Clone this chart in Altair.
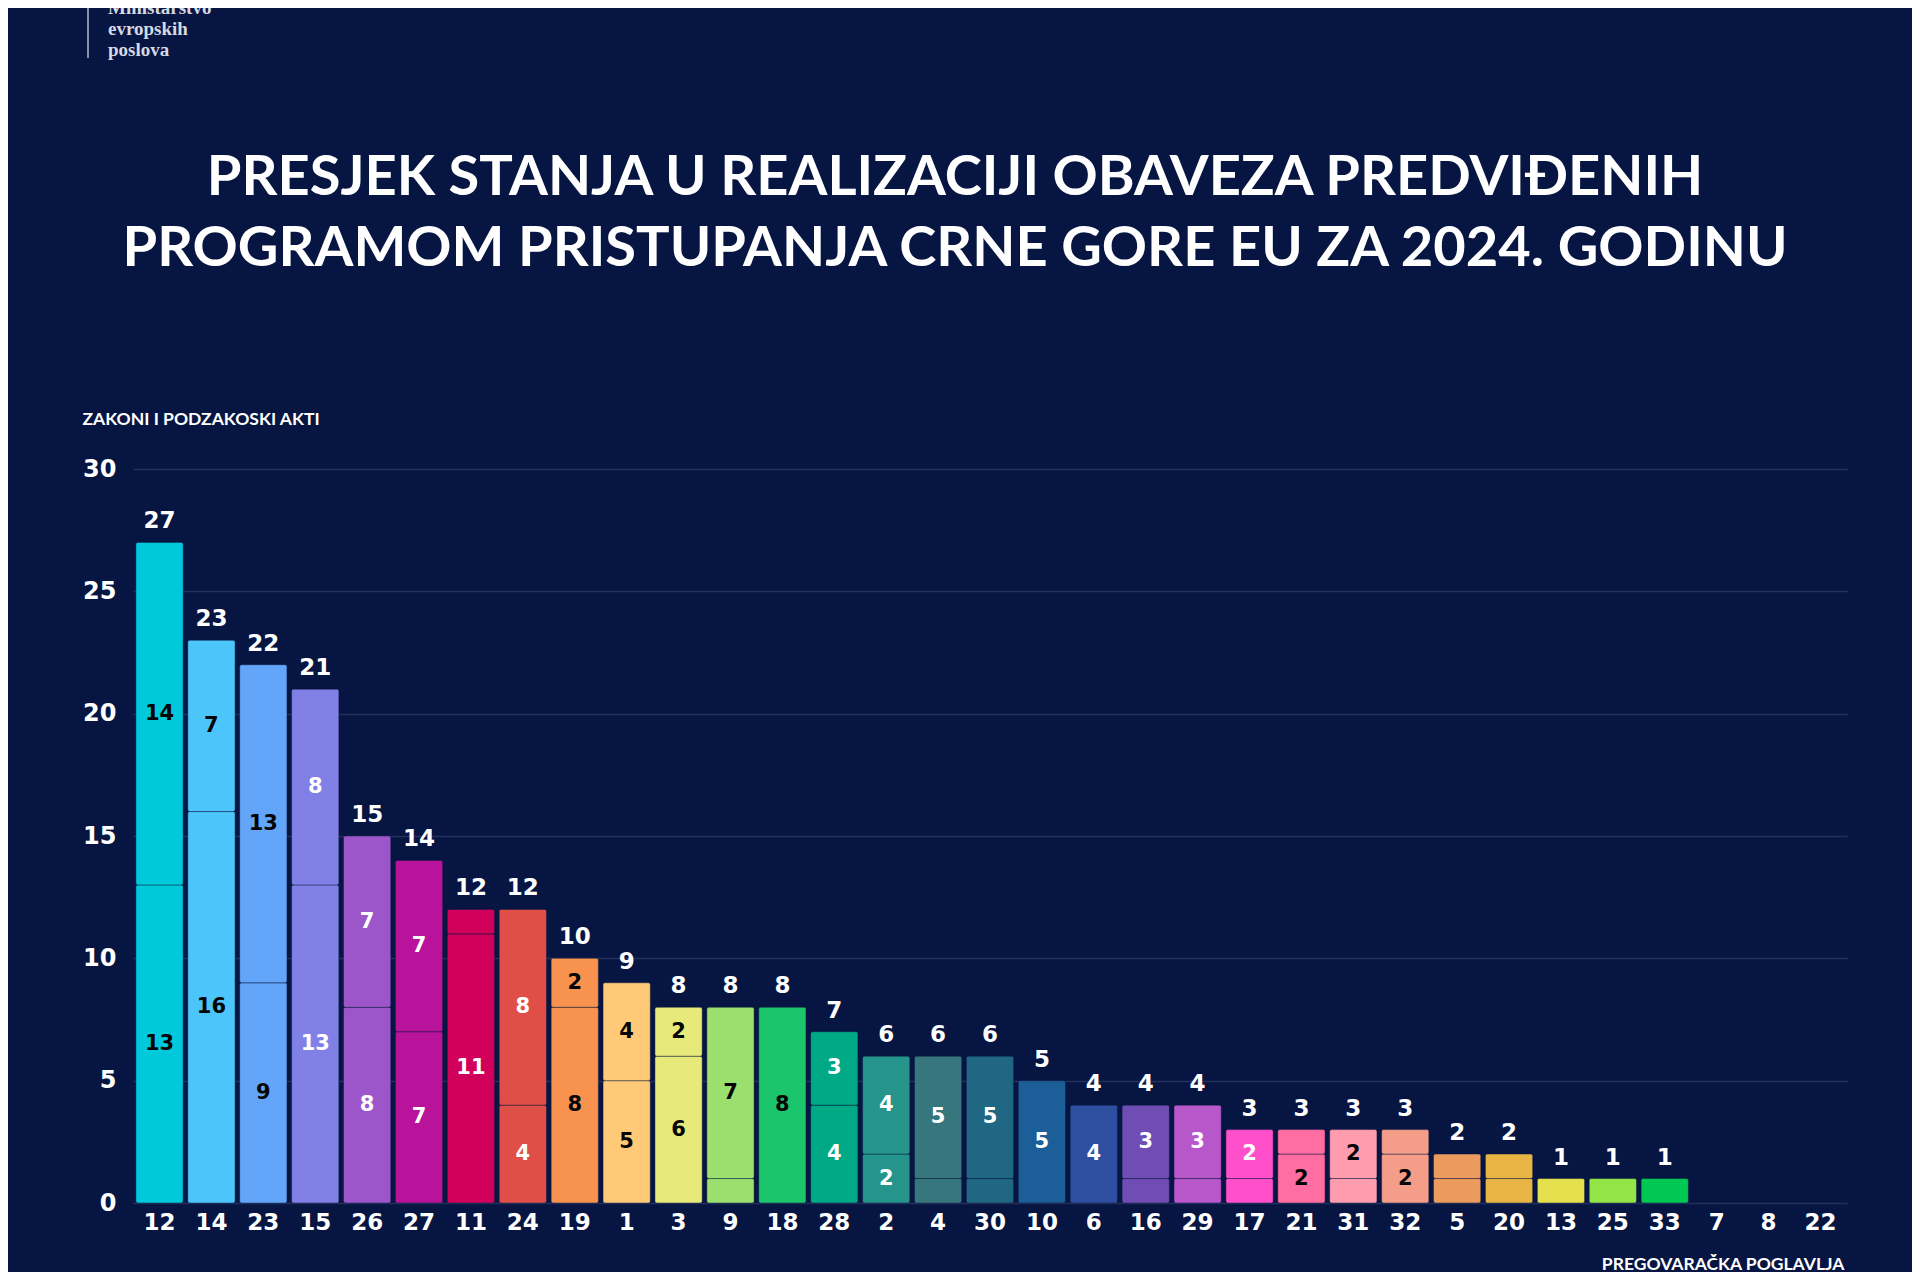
import altair as alt
import pandas as pd

# ---- data ----
chapters = ["12", "14", "23", "15", "26", "27", "11", "24", "19", "1", "3", "9", "18", "28", "2", "4",
            "30", "10", "6", "16", "29", "17", "21", "31", "32", "5", "20", "13", "25", "33", "7", "8", "22"]
bottom_part = [13, 16, 9, 13, 8, 7, 11, 4, 8, 5, 6, 1, 8, 4, 2, 1,
               1, 5, 4, 1, 1, 1, 2, 1, 2, 1, 1, 1, 1, 1, 0, 0, 0]
top_part = [14, 7, 13, 8, 7, 7, 1, 8, 2, 4, 2, 7, 0, 3, 4, 5,
            5, 0, 0, 3, 3, 2, 1, 2, 1, 1, 1, 0, 0, 0, 0, 0, 0]
bar_colors = ["#00C9DB", "#4CC5FB", "#63A5F9", "#8080E6", "#9D56C9", "#B9139C", "#D1005A", "#E04F47",
              "#F8924F", "#FFCA77", "#E7E97A", "#9BE06F", "#1BC56C", "#00A985", "#25958B", "#37767C",
              "#1F6782", "#1C5E98", "#2E4EA0", "#6F4DB3", "#B857CA", "#FF4FCB", "#FF6DA1", "#FF9DAF",
              "#F49E89", "#EB9B5E", "#E8B545", "#E5E04D", "#93E547", "#00C853", "#777777", "#777777", "#777777"]
label_ink = ["#050505", "#050505", "#050505", "white", "white", "white", "white", "white",
             "#050505", "#050505", "#050505", "#050505", "#050505", "white", "white", "white",
             "white", "white", "white", "white", "white", "white", "#050505", "#050505",
             "#050505", "white", "white", "white", "white", "white", "white", "white", "white"]

title_lines = ["PRESJEK STANJA U REALIZACIJI OBAVEZA PREDVIĐENIH",
               "PROGRAMOM PRISTUPANJA CRNE GORE EU ZA 2024. GODINU"]
y_title = "ZAKONI I PODZAKOSKI AKTI"
x_title = "PREGOVARAČKA POGLAVLJA"
logo_lines = ["Ministarstvo", "evropskih", "poslova"]

BG = "#061541"
FONT = "Lato"
NUMFONT = "DejaVu Sans"

# ---- tables built from the lists ----
seg_rows = []
for i, ch in enumerate(chapters):
    b, t = bottom_part[i], top_part[i]
    seg_rows.append(dict(ch=ch, y0=0, y1=b, v=b, mid=b / 2, ink=label_ink[i]))
    seg_rows.append(dict(ch=ch, y0=b, y1=b + t, v=t, mid=b + t / 2, ink=label_ink[i]))
seg = pd.DataFrame(seg_rows)
tot = pd.DataFrame(dict(ch=chapters, total=[b + t for b, t in zip(bottom_part, top_part)]))

xenc = alt.X("ch:N", sort=chapters, title=x_title,
             scale=alt.Scale(domain=chapters, paddingInner=0.09, paddingOuter=0.056),
             axis=alt.Axis(labelAngle=0, labelPadding=8, labelFontSize=23, labelColor="white",
                           labelFont=NUMFONT, labelFontWeight="bold", domain=False, ticks=False,
                           titleX=1711, titleY=61, titleAlign="right", titleBaseline="middle",
                           titleFont=FONT, titleFontSize=17.5, titleFontWeight="bold", titleColor="white"))

bars = alt.Chart(seg).transform_filter("datum.v > 0").mark_bar(
    cornerRadius=2, stroke="#0b1a40", strokeWidth=1, strokeOpacity=0.45
).encode(
    x=xenc,
    y=alt.Y("y0:Q", scale=alt.Scale(domain=[0, 30], nice=False),
            title=y_title,
            axis=alt.Axis(values=[0, 5, 10, 15, 20, 25, 30], labelPadding=17, labelFontSize=24,
                          labelColor="white", labelFont=NUMFONT, labelFontWeight="bold",
                          domain=False, ticks=False, grid=True, gridColor="#26305E", gridWidth=1.5,
                          titleAngle=0, titleX=-51, titleY=-50, titleAlign="left",
                          titleBaseline="middle", titleFont=FONT, titleFontSize=17.5,
                          titleFontWeight="bold", titleColor="white")),
    y2="y1:Q",
    color=alt.Color("ch:N", scale=alt.Scale(domain=chapters, range=bar_colors), legend=None),
)

seg_labels = alt.Chart(seg).transform_filter("datum.v >= 2").mark_text(
    font=NUMFONT, fontSize=21, fontWeight="bold", baseline="middle"
).encode(
    x=alt.X("ch:N", sort=chapters),
    y=alt.Y("mid:Q"),
    text=alt.Text("v:Q"),
    color=alt.Color("ink:N", scale=None),
)

tot_labels = alt.Chart(tot).transform_filter("datum.total > 0").mark_text(
    font=NUMFONT, fontSize=23, fontWeight="bold", baseline="middle", dy=-21, color="white"
).encode(
    x=alt.X("ch:N", sort=chapters),
    y=alt.Y("total:Q"),
    text=alt.Text("total:Q"),
)


def note(text, x, y, size, font=FONT, weight="bold", color="white", align="center", baseline="middle"):
    return alt.Chart(pd.DataFrame({"t": [text]})).mark_text(
        font=font, fontSize=size, fontWeight=weight, color=color, align=align, baseline=baseline
    ).encode(x=alt.value(x), y=alt.value(y), text="t:N")


title1 = note(title_lines[0], 822, -291, 56)
title2 = note(title_lines[1], 822, -220, 56)

logo_rule = alt.Chart(pd.DataFrame({"a": [0]})).mark_rule(color="#8A90A8", strokeWidth=2).encode(
    x=alt.value(-45), y=alt.value(-470), y2=alt.value(-411))
logo = [note(t, -25, yy, 19, font="Liberation Serif", weight="bold", color="#D6D9E2",
             align="left", baseline="alphabetic")
        for t, yy in zip(logo_lines, [-455, -434, -413])]

chart = alt.layer(bars, seg_labels, tot_labels, title1, title2, logo_rule, *logo).properties(
    width=1714, height=734,
    autosize=alt.AutoSizeParams(type="none"),
    padding={"left": 125, "top": 461, "right": 65, "bottom": 69},
    background=BG,
).configure_view(stroke=None)

chart.save("out.html", embed_options={"renderer": "svg", "actions": False})
